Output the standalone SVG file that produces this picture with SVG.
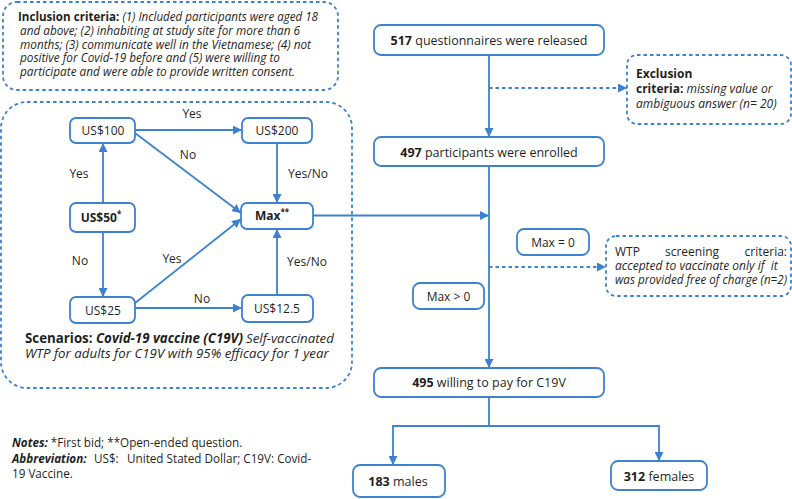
<svg xmlns="http://www.w3.org/2000/svg" width="792" height="499" viewBox="0 0 792 499">
<defs>
<style>
text{font-family:"Open Sans","Noto Sans",sans-serif;fill:#1f1f1f}
.box{fill:#fff;stroke:#3d82cf;stroke-width:1.8}
.dbox{fill:none;stroke:#3d82cf;stroke-width:1.8;stroke-dasharray:3.5 3}
.ln{fill:none;stroke:#3d82cf;stroke-width:1.8}
.dl{fill:none;stroke:#3d82cf;stroke-width:1.8;stroke-dasharray:3.5 3}
.n{font-size:12px;text-anchor:middle}
.m{font-size:12.5px;text-anchor:middle}
.lb{font-size:12px;text-anchor:middle}
.s{font-size:12px}
.nt{font-size:11.7px}
.b{font-weight:bold}
.i{font-style:italic}
.pre{white-space:pre}
</style>
<marker id="ah" viewBox="0 0 10 10" refX="10" refY="5" markerWidth="9" markerHeight="9" markerUnits="userSpaceOnUse" orient="auto">
<path d="M0,0 L10,5 L0,10 z" fill="#3d82cf"/>
</marker>
</defs>
<rect width="792" height="499" fill="#fff"/>

<g id="inclusion">
<rect class="dbox" x="3" y="2" width="335" height="88" rx="14"/>
<text class="s" x="18" y="21" textLength="300" lengthAdjust="spacingAndGlyphs"><tspan class="b">Inclusion criteria: </tspan><tspan class="i">(1) Included participants were aged 18</tspan></text>
<text class="s i" x="20" y="35" textLength="280" lengthAdjust="spacingAndGlyphs">and above; (2) inhabiting at study site for more than 6</text>
<text class="s i" x="20" y="48.5" textLength="291" lengthAdjust="spacingAndGlyphs">months; (3) communicate well in the Vietnamese; (4) not</text>
<text class="s i" x="20" y="62" textLength="260" lengthAdjust="spacingAndGlyphs">positive for Covid-19 before and (5) were willing to</text>
<text class="s i" x="20" y="76" textLength="275" lengthAdjust="spacingAndGlyphs">participate and were able to provide written consent.</text>
</g>

<g id="scenario-frame">
<rect class="dbox" x="1" y="102" width="351" height="286" rx="26"/>
<text x="25" y="343" font-size="13.3"><tspan class="b">Scenarios: </tspan><tspan class="b i">Covid-19 vaccine (C19V)</tspan></text>
<text class="i" x="246" y="343" font-size="13.3">Self-vaccinated</text>
<text class="i" x="25" y="358" font-size="13.3">WTP for adults for C19V with 95% efficacy for 1 year</text>
</g>

<g id="connectors">
<line class="ln" x1="135" y1="130" x2="242" y2="130" marker-end="url(#ah)"/>
<line class="ln" x1="135" y1="133" x2="241" y2="213" marker-end="url(#ah)"/>
<line class="ln" x1="277" y1="143" x2="277" y2="203" marker-end="url(#ah)"/>
<line class="ln" x1="103" y1="203" x2="103" y2="143" marker-end="url(#ah)"/>
<line class="ln" x1="103" y1="232" x2="103" y2="297" marker-end="url(#ah)"/>
<line class="ln" x1="135" y1="303" x2="241" y2="219" marker-end="url(#ah)"/>
<line class="ln" x1="135" y1="308" x2="242" y2="308" marker-end="url(#ah)"/>
<line class="ln" x1="277" y1="295" x2="277" y2="229" marker-end="url(#ah)"/>
<line class="ln" x1="313" y1="215.5" x2="489" y2="215.5" marker-end="url(#ah)"/>
<line class="ln" x1="489" y1="55" x2="489" y2="137" marker-end="url(#ah)"/>
<line class="dl" x1="489" y1="88" x2="627" y2="88" marker-end="url(#ah)"/>
<line class="ln" x1="489" y1="166" x2="489" y2="368" marker-end="url(#ah)"/>
<line class="dl" x1="489" y1="267" x2="606" y2="267" marker-end="url(#ah)"/>
<polyline class="ln" points="489,397 489,426 393,426 393,465" marker-end="url(#ah)"/>
<polyline class="ln" points="489,426 659,426 659,461" marker-end="url(#ah)"/>
<text class="lb" x="192" y="118">Yes</text>
<text class="lb" x="188" y="159">No</text>
<text class="lb" x="308" y="178">Yes/No</text>
<text class="lb" x="79" y="178">Yes</text>
<text class="lb" x="80" y="265">No</text>
<text class="lb" x="172" y="263">Yes</text>
<text class="lb" x="202" y="303">No</text>
<text class="lb" x="307" y="266">Yes/No</text>
</g>

<g id="us100"><rect class="box" x="70" y="118" width="65" height="25" rx="6"/><text class="n" x="103" y="135">US$100</text></g>
<g id="us200"><rect class="box" x="242" y="118" width="70" height="25" rx="6"/><text class="n" x="277" y="135">US$200</text></g>
<g id="us50"><rect class="box" x="70" y="203" width="65" height="29" rx="6"/><text class="n b" x="101" y="222">US$50<tspan font-size="8" dy="-5">*</tspan></text></g>
<g id="max"><rect class="box" x="241" y="203" width="72" height="26" rx="6"/><text class="n b" x="272" y="220">Max<tspan font-size="8" dy="-5">**</tspan></text></g>
<g id="us25"><rect class="box" x="70" y="297" width="65" height="26" rx="6"/><text class="n" x="103" y="314.5">US$25</text></g>
<g id="us125"><rect class="box" x="242" y="295" width="71" height="27" rx="6"/><text class="n" x="277" y="313">US$12.5</text></g>

<g id="released"><rect class="box" x="374" y="25" width="230" height="30" rx="7"/><text class="m" x="489" y="45"><tspan class="b">517</tspan> questionnaires were released</text></g>
<g id="exclusion">
<rect class="dbox" x="627" y="55" width="164" height="69" rx="10"/>
<text x="636" y="78" font-size="12" class="b">Exclusion</text>
<text x="636" y="93" font-size="12"><tspan class="b">criteria: </tspan><tspan class="i">missing value or</tspan></text>
<text x="636" y="107.5" font-size="12" class="i">ambiguous answer (n= 20)</text>
</g>
<g id="enrolled"><rect class="box" x="374" y="137" width="230" height="29" rx="7"/><text class="m" x="489" y="156.5"><tspan class="b">497</tspan> participants were enrolled</text></g>
<g id="max0"><rect class="box" x="517" y="229" width="72" height="26" rx="7"/><text class="n" x="553" y="246.5">Max = 0</text></g>
<g id="maxgt0"><rect class="box" x="413" y="283" width="71" height="26" rx="7"/><text class="n" x="448.5" y="300.5">Max &gt; 0</text></g>
<g id="wtp">
<rect class="dbox" x="606" y="236" width="185" height="60" rx="10"/>
<text x="615" y="256" font-size="12">WTP</text>
<text x="665" y="256" font-size="12">screening</text>
<text x="787" y="256" font-size="12" text-anchor="end">criteria:</text>
<text x="615" y="269.5" font-size="12" class="i pre" xml:space="preserve">accepted to vaccinate only if  it</text>
<text x="615" y="283.5" font-size="12" class="i" textLength="172" lengthAdjust="spacingAndGlyphs">was provided free of charge (n=2)</text>
</g>
<g id="willing"><rect class="box" x="374" y="368" width="230" height="29" rx="7"/><text class="m" x="489" y="387"><tspan class="b">495</tspan> willing to pay for C19V</text></g>
<g id="males"><rect class="box" x="353" y="465" width="92" height="32" rx="7"/><text class="m" x="398" y="486"><tspan class="b">183</tspan> males</text></g>
<g id="females"><rect class="box" x="611" y="461" width="96" height="29" rx="7"/><text class="m" x="659" y="480.5"><tspan class="b">312</tspan> females</text></g>

<g id="notes">
<text class="nt" x="12" y="447"><tspan class="b i">Notes:</tspan> *First bid; **Open-ended question.</text>
<text class="nt" x="12" y="463"><tspan class="b i">Abbreviation:</tspan></text>
<text class="nt" x="94" y="463">US$:</text>
<text class="nt" x="127" y="463">United Stated Dollar; C19V: Covid-</text>
<text class="nt" x="12" y="478">19 Vaccine.</text>
</g>
</svg>
